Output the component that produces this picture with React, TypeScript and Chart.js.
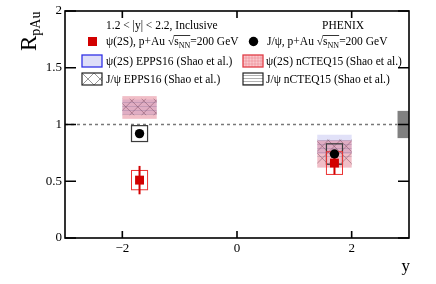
import React, { useEffect, useRef } from "react";
import { Chart, registerables } from "chart.js";

Chart.register(...registerables);

const FONT = '"Liberation Serif", "DejaVu Serif", "Times New Roman", serif';

// ---------- data ----------
const xTicks = [-2, 0, 2];
const yTicks = [0, 0.5, 1, 1.5, 2];

const rapidity = [-1.7, 1.7];
const psi2sRpAu = [0.51, 0.66];
const psi2sStat = [0.125, 0.1];
const psi2sSys = [0.085, 0.1];
const jpsiRpAu = [0.92, 0.74];
const jpsiStat = [0.02, 0.02];
const jpsiSys = [0.07, 0.09];
const sysHalfWidth = 0.14;

const bandHalfWidth = 0.3;
const psi2sEppsLow = [1.09, 0.74];
const psi2sEppsHigh = [1.22, 0.91];
const psi2sNcteqLow = [1.05, 0.62];
const psi2sNcteqHigh = [1.25, 0.86];
const jpsiEppsLow = [1.08, 0.64];
const jpsiEppsHigh = [1.23, 0.87];
const jpsiNcteqLow = [1.07, 0.7];
const jpsiNcteqHigh = [1.22, 0.88];

const globalUncX = [2.8, 3.0];
const globalUnc = 0.12;

const RED = "rgb(210,0,0)";

function txt(ctx: CanvasRenderingContext2D, s: string, x: number, y: number, size = 11.5) {
  ctx.font = `${size}px ${FONT}`;
  ctx.fillText(s, x, y);
  return x + ctx.measureText(s).width;
}

function sqrtS(ctx: CanvasRenderingContext2D, x: number, y: number) {
  let nx = txt(ctx, "\u221A", x, y);
  const sx = nx;
  nx = txt(ctx, "s", nx, y);
  nx = txt(ctx, "NN", nx, y + 3, 8);
  ctx.save();
  ctx.strokeStyle = "#000";
  ctx.lineWidth = 0.8;
  ctx.beginPath();
  ctx.moveTo(sx - 0.5, y - 9.5);
  ctx.lineTo(nx, y - 9.5);
  ctx.stroke();
  ctx.restore();
  nx = txt(ctx, "=200 GeV", nx, y);
  return nx;
}

function crossHatch(ctx: CanvasRenderingContext2D, x0: number, y0: number, x1: number, y1: number, step: number, color: string) {
  ctx.save();
  ctx.beginPath();
  ctx.rect(x0, y0, x1 - x0, y1 - y0);
  ctx.clip();
  ctx.strokeStyle = color;
  ctx.lineWidth = 0.8;
  const h = y1 - y0;
  ctx.beginPath();
  for (let k = -h; k < x1 - x0 + h; k += step) {
    ctx.moveTo(x0 + k, y0);
    ctx.lineTo(x0 + k + h, y1);
    ctx.moveTo(x0 + k + h, y0);
    ctx.lineTo(x0 + k, y1);
  }
  ctx.stroke();
  ctx.restore();
}

function hLines(ctx: CanvasRenderingContext2D, x0: number, y0: number, x1: number, y1: number, step: number, color: string) {
  ctx.save();
  ctx.strokeStyle = color;
  ctx.lineWidth = 0.8;
  ctx.beginPath();
  for (let y = y0 + step / 2; y < y1; y += step) {
    ctx.moveTo(x0, Math.round(y) + 0.5);
    ctx.lineTo(x1, Math.round(y) + 0.5);
  }
  ctx.stroke();
  ctx.restore();
}

function grid(ctx: CanvasRenderingContext2D, x0: number, y0: number, x1: number, y1: number, step: number, color: string) {
  ctx.save();
  ctx.strokeStyle = color;
  ctx.lineWidth = 0.6;
  ctx.beginPath();
  for (let y = y0 + step; y < y1; y += step) {
    ctx.moveTo(x0, y);
    ctx.lineTo(x1, y);
  }
  for (let x = x0 + step; x < x1; x += step) {
    ctx.moveTo(x, y0);
    ctx.lineTo(x, y1);
  }
  ctx.stroke();
  ctx.restore();
}

const decor = {
  id: "phenixDecor",
  beforeDatasetsDraw(chart: any) {
    const ctx: CanvasRenderingContext2D = chart.ctx;
    const xs = chart.scales.x;
    const ys = chart.scales.y;
    const area = chart.chartArea;

    // theory bands
    rapidity.forEach((xv, i) => {
      const x0 = xs.getPixelForValue(xv - bandHalfWidth);
      const x1 = xs.getPixelForValue(xv + bandHalfWidth);
      const b = (lo: number, hi: number) => [ys.getPixelForValue(hi), ys.getPixelForValue(lo)];
      let [t, bt] = b(psi2sEppsLow[i], psi2sEppsHigh[i]);
      ctx.fillStyle = "rgba(170,170,235,0.35)";
      ctx.fillRect(x0, t, x1 - x0, bt - t);
      [t, bt] = b(psi2sNcteqLow[i], psi2sNcteqHigh[i]);
      ctx.fillStyle = "rgba(225,110,130,0.45)";
      ctx.fillRect(x0, t, x1 - x0, bt - t);
      [t, bt] = b(jpsiEppsLow[i], jpsiEppsHigh[i]);
      crossHatch(ctx, x0, t, x1, bt, 12, "rgba(110,60,80,0.55)");
      [t, bt] = b(jpsiNcteqLow[i], jpsiNcteqHigh[i]);
      hLines(ctx, x0, t, x1, bt, 4, "rgba(110,90,140,0.3)");
    });

    // dashed unity line
    const y1 = ys.getPixelForValue(1);
    ctx.save();
    ctx.strokeStyle = "rgb(120,120,120)";
    ctx.lineWidth = 1.5;
    ctx.setLineDash([3, 3]);
    ctx.beginPath();
    ctx.moveTo(area.left, y1);
    ctx.lineTo(xs.getPixelForValue(globalUncX[0]), y1);
    ctx.stroke();
    ctx.restore();

    // global uncertainty box
    const gx0 = xs.getPixelForValue(globalUncX[0]);
    const gx1 = xs.getPixelForValue(globalUncX[1]);
    const gt = ys.getPixelForValue(1 + globalUnc);
    const gb = ys.getPixelForValue(1 - globalUnc);
    ctx.fillStyle = "rgb(128,128,128)";
    ctx.fillRect(gx0, gt, gx1 - gx0, gb - gt);

    // systematic boxes
    rapidity.forEach((xv, i) => {
      const x0 = xs.getPixelForValue(xv - sysHalfWidth);
      const x1 = xs.getPixelForValue(xv + sysHalfWidth);
      let t = ys.getPixelForValue(jpsiRpAu[i] + jpsiSys[i]);
      let b = ys.getPixelForValue(jpsiRpAu[i] - jpsiSys[i]);
      ctx.strokeStyle = "rgb(60,60,60)";
      ctx.lineWidth = 1.2;
      ctx.strokeRect(x0, t, x1 - x0, b - t);
      t = ys.getPixelForValue(psi2sRpAu[i] + psi2sSys[i]);
      b = ys.getPixelForValue(psi2sRpAu[i] - psi2sSys[i]);
      ctx.strokeStyle = "rgb(235,50,50)";
      ctx.lineWidth = 1;
      ctx.strokeRect(x0, t, x1 - x0, b - t);
    });

    // stat error bars
    rapidity.forEach((xv, i) => {
      const px = xs.getPixelForValue(xv);
      ctx.strokeStyle = RED;
      ctx.lineWidth = 2;
      ctx.beginPath();
      ctx.moveTo(px, ys.getPixelForValue(psi2sRpAu[i] + psi2sStat[i]));
      ctx.lineTo(px, ys.getPixelForValue(psi2sRpAu[i] - psi2sStat[i]));
      ctx.stroke();
      ctx.strokeStyle = "#000";
      ctx.beginPath();
      ctx.moveTo(px, ys.getPixelForValue(jpsiRpAu[i] + jpsiStat[i]));
      ctx.lineTo(px, ys.getPixelForValue(jpsiRpAu[i] - jpsiStat[i]));
      ctx.stroke();
    });
  },
  afterDraw(chart: any) {
    const ctx: CanvasRenderingContext2D = chart.ctx;
    const xs = chart.scales.x;
    const ys = chart.scales.y;
    const a = chart.chartArea;

    // frame
    ctx.save();
    ctx.strokeStyle = "#000";
    ctx.lineWidth = 1.6;
    ctx.strokeRect(a.left, a.top, a.right - a.left, a.bottom - a.top);
    // ticks
    ctx.lineWidth = 1.6;
    ctx.beginPath();
    yTicks.forEach((v) => {
      const py = ys.getPixelForValue(v);
      ctx.moveTo(a.left, py);
      ctx.lineTo(a.left + 11, py);
      ctx.moveTo(a.right, py);
      ctx.lineTo(a.right - 11, py);
    });
    xTicks.forEach((v) => {
      const px = xs.getPixelForValue(v);
      ctx.moveTo(px, a.bottom);
      ctx.lineTo(px, a.bottom - 7);
      ctx.moveTo(px, a.top);
      ctx.lineTo(px, a.top + 7);
    });
    ctx.stroke();

    ctx.fillStyle = "#000";
    ctx.textBaseline = "alphabetic";
    ctx.textAlign = "left";

    // y title R_pAu
    ctx.save();
    ctx.translate(36, 51);
    ctx.rotate(-Math.PI / 2);
    const rEnd = txt(ctx, "R", 0, 0, 23);
    txt(ctx, "pAu", rEnd, 4, 14);
    ctx.restore();

    // x title
    ctx.textAlign = "right";
    txt(ctx, "y", 410, 271, 17);
    ctx.textAlign = "left";

    // legend
    txt(ctx, "1.2 < |y| < 2.2, Inclusive", 106, 29);
    txt(ctx, "PHENIX", 322, 29);

    ctx.fillStyle = RED;
    ctx.fillRect(88, 37, 9, 9);
    ctx.fillStyle = "#000";
    let nx = txt(ctx, "\u03C8(2S), p+Au ", 106, 45);
    sqrtS(ctx, nx, 45);

    ctx.beginPath();
    ctx.arc(253.5, 41.5, 4.7, 0, Math.PI * 2);
    ctx.fill();
    nx = txt(ctx, "J/\u03C8, p+Au ", 267, 45);
    sqrtS(ctx, nx, 45);

    // blue box
    ctx.fillStyle = "rgb(222,222,248)";
    ctx.fillRect(82, 55, 20, 12);
    ctx.strokeStyle = "rgb(50,50,230)";
    ctx.lineWidth = 1.3;
    ctx.strokeRect(82, 55, 20, 12);
    ctx.fillStyle = "#000";
    txt(ctx, "\u03C8(2S) EPPS16 (Shao et al.)", 106, 65);

    // pink box
    ctx.fillStyle = "rgb(250,200,205)";
    ctx.fillRect(243, 55, 20, 12);
    grid(ctx, 243, 55, 263, 67, 3, "rgba(230,80,90,0.45)");
    ctx.strokeStyle = "rgb(225,60,70)";
    ctx.lineWidth = 1.3;
    ctx.strokeRect(243, 55, 20, 12);
    ctx.fillStyle = "#000";
    txt(ctx, "\u03C8(2S) nCTEQ15 (Shao et al.)", 266, 65);

    // crosshatch box
    crossHatch(ctx, 82, 73, 102, 85, 12, "rgba(90,90,90,0.8)");
    ctx.strokeStyle = "#222";
    ctx.lineWidth = 1.2;
    ctx.strokeRect(82, 73, 20, 12);
    txt(ctx, "J/\u03C8 EPPS16 (Shao et al.)", 106, 83);

    // hlines box
    hLines(ctx, 243, 73, 263, 85, 3, "rgba(90,90,90,0.6)");
    ctx.strokeStyle = "#222";
    ctx.lineWidth = 1.2;
    ctx.strokeRect(243, 73, 20, 12);
    ctx.fillStyle = "#000";
    txt(ctx, "J/\u03C8 nCTEQ15 (Shao et al.)", 266, 83);

    ctx.restore();
  },
};

export default function App() {
  const ref = useRef<HTMLCanvasElement>(null);
  useEffect(() => {
    if (!ref.current) return;
    const chart = new Chart(ref.current, {
      type: "scatter",
      data: {
        datasets: [
          {
            label: "psi(2S)",
            data: rapidity.map((x, i) => ({ x, y: psi2sRpAu[i] })),
            pointStyle: "rect",
            pointRadius: 6.3,
            backgroundColor: RED,
            borderWidth: 0,
          },
          {
            label: "J/psi",
            data: rapidity.map((x, i) => ({ x, y: jpsiRpAu[i] })),
            pointStyle: "circle",
            pointRadius: 4.7,
            backgroundColor: "#000",
            borderWidth: 0,
          },
        ],
      },
      options: {
        animation: false,
        responsive: false,
        devicePixelRatio: 1,
        layout: { padding: { left: 0, right: 27, top: 11, bottom: 0 } },
        plugins: { legend: { display: false }, tooltip: { enabled: false } },
        scales: {
          x: {
            type: "linear",
            min: -3,
            max: 3,
            afterBuildTicks: (s: any) => {
              s.ticks = xTicks.map((v) => ({ value: v }));
            },
            afterFit: (s: any) => {
              s.height = 46;
            },
            grid: { display: false, drawTicks: false },
            border: { display: false },
            ticks: {
              autoSkip: false,
              maxRotation: 0,
              padding: 3,
              color: "#000",
              font: { family: FONT, size: 13 },
              callback: (v: any) => (v < 0 ? "\u2212" + Math.abs(v) : String(v)),
            },
          },
          y: {
            type: "linear",
            min: 0,
            max: 2,
            afterBuildTicks: (s: any) => {
              s.ticks = yTicks.map((v) => ({ value: v }));
            },
            afterFit: (s: any) => {
              s.width = 65;
            },
            grid: { display: false, drawTicks: false },
            border: { display: false },
            ticks: {
              autoSkip: false,
              padding: 3,
              color: "#000",
              font: { family: FONT, size: 13 },
              callback: (v: any) => String(v),
            },
          },
        },
      },
      plugins: [decor],
    });
    return () => chart.destroy();
  }, []);
  return (
    <div style={{ position: "fixed", left: 0, top: 0, width: 436, height: 284, background: "#fff" }}>
      <canvas ref={ref} width={436} height={284} />
    </div>
  );
}
